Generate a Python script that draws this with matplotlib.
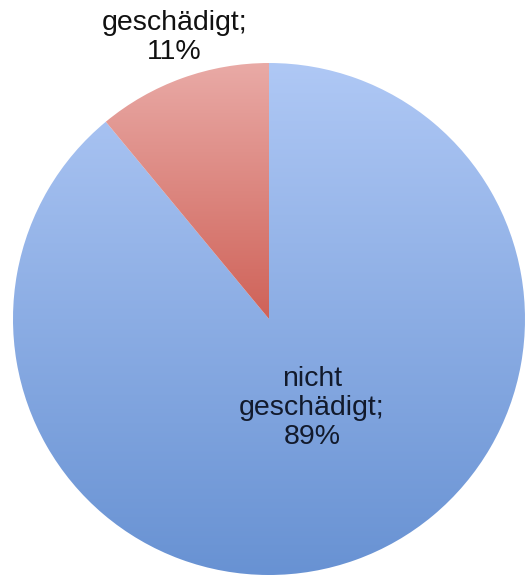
import numpy as np
import matplotlib.pyplot as plt
from matplotlib.colors import LinearSegmentedColormap

plt.rcParams['font.family'] = ['Liberation Sans', 'DejaVu Sans']

# Anteile
labels = ['nicht\ngeschädigt', 'geschädigt']
werte = [89, 11]
# Verlauf je Segment: oben -> unten
farben = [('#afc8f5', '#6892d3'), ('#e9aaa6', '#cf6258')]
textfarben = ['#121a2c', '#111111']
# Beschriftungsposition (Abstand vom Mittelpunkt, Winkel in Grad)
label_pos = [(0.386, -64.2), (1.16, 108.6)]

W, H = 526, 577
fig = plt.figure(figsize=(W / 100, H / 100), dpi=100)
cx, cy, r = 269, 258, 256
ax = fig.add_axes([(cx - r) / W, (cy - r) / H, 2 * r / W, 2 * r / H])

wedges, _ = ax.pie(werte, startangle=90, counterclock=False, radius=1,
                   center=(0, 0), wedgeprops=dict(linewidth=0))

for w, (c_top, c_bot) in zip(wedges, farben):
    w.set_facecolor('none')
    ext = w.get_path().get_extents()
    cmap = LinearSegmentedColormap.from_list('g', [c_bot, c_top])
    grad = np.linspace(0, 1, 256).reshape(-1, 1)
    im = ax.imshow(grad, cmap=cmap, origin='lower', aspect='auto',
                   extent=[-1, 1, ext.y0, ext.y1], zorder=1)
    im.set_clip_path(w)

for lab, v, (d, a), tc in zip(labels, werte, label_pos, textfarben):
    a = np.deg2rad(a)
    ax.text(d * np.cos(a), d * np.sin(a), f'{lab};\n{v}%',
            ha='center', va='center', fontsize=20.5, color=tc,
            linespacing=1.16, clip_on=False, zorder=3)

ax.set_xlim(-1, 1)
ax.set_ylim(-1, 1)
ax.axis('off')

fig.savefig('out.png', dpi=100)
